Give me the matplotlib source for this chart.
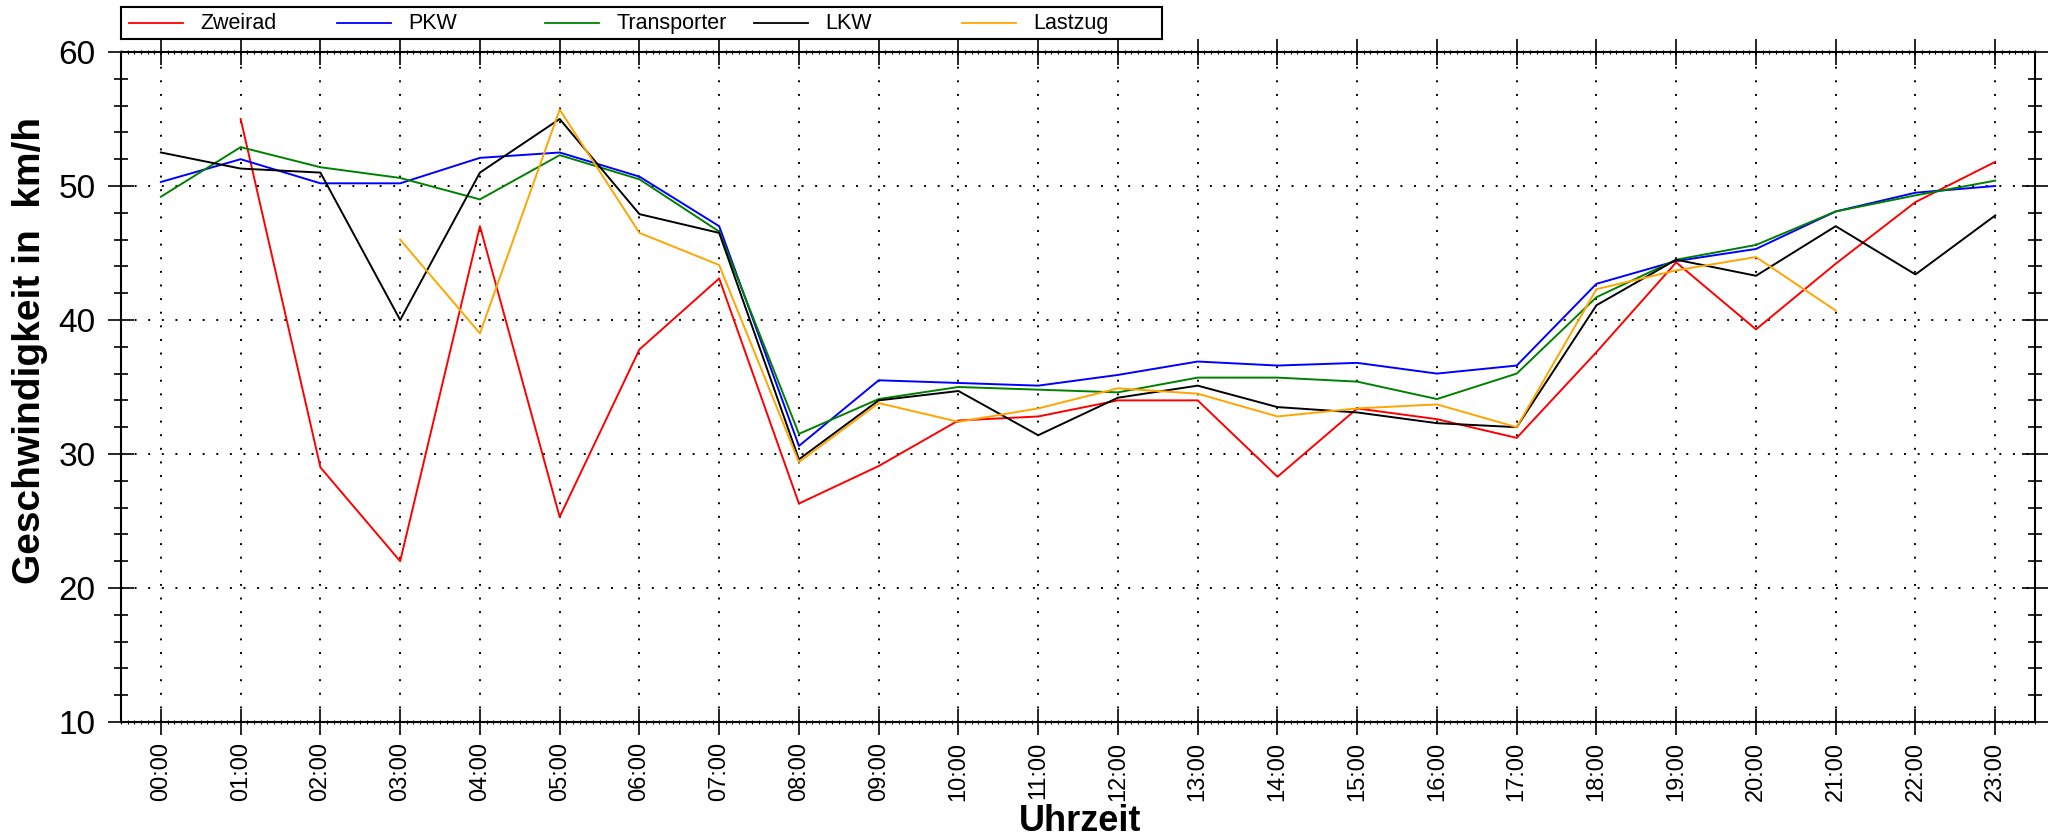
import numpy as np
import matplotlib
matplotlib.use('Agg')
import matplotlib.pyplot as plt
from matplotlib.ticker import MultipleLocator

nan = np.nan

hours = ['%02d:00' % h for h in range(24)]
zweirad = [nan, 55.0, 29.0, 22.0, 47.0, 25.3, 37.8, 43.1, 26.3, 29.1, 32.5, 32.8,
           34.0, 34.0, 28.3, 33.4, 32.6, 31.2, 37.6, 44.3, 39.3, 44.2, 48.8, 51.8]
pkw = [50.3, 52.0, 50.2, 50.2, 52.1, 52.5, 50.7, 47.0, 30.6, 35.5, 35.3, 35.1,
       35.9, 36.9, 36.6, 36.8, 36.0, 36.6, 42.7, 44.4, 45.3, 48.1, 49.5, 50.0]
transporter = [49.2, 52.9, 51.4, 50.6, 49.0, 52.3, 50.5, 46.6, 31.5, 34.1, 35.0, 34.8,
               34.6, 35.7, 35.7, 35.4, 34.1, 36.0, 41.7, 44.5, 45.6, 48.1, 49.3, 50.4]
lkw = [52.5, 51.3, 51.0, 40.0, 51.0, 55.0, 47.9, 46.5, 29.6, 34.0, 34.7, 31.4,
       34.2, 35.1, 33.5, 33.1, 32.3, 32.0, 41.1, 44.5, 43.3, 47.0, 43.4, 47.8]
lastzug = [nan, nan, nan, 46.0, 39.0, 55.7, 46.5, 44.1, 29.4, 33.8, 32.4, 33.4,
           34.9, 34.5, 32.8, 33.4, 33.7, 32.0, 42.3, 43.7, 44.7, 40.7, nan, nan]

names = ['Zweirad', 'PKW', 'Transporter', 'LKW', 'Lastzug']
colors = ['#ff0000', '#0000ff', '#008000', '#000000', '#ffa500']
series = [zweirad, pkw, transporter, lkw, lastzug]

plt.rcParams['font.family'] = ['Liberation Sans', 'DejaVu Sans']

fig = plt.figure(figsize=(20.48, 8.4), dpi=100)
ax = fig.add_axes([0.0591, 0.1405, 0.9346, 0.7976])

x = np.arange(len(hours))
for vals, c in zip(series, colors):
    ax.plot(x, vals, color=c, linewidth=1.4)

ax.set_xlim(-0.5, 23.5)
ax.set_ylim(10, 60)
ax.set_xticks(x)
ax.set_xticklabels(hours, rotation=90, fontsize=17)
ax.xaxis.set_minor_locator(MultipleLocator(1 / 12))
ax.yaxis.set_major_locator(MultipleLocator(10))
ax.yaxis.set_minor_locator(MultipleLocator(2))
ax.tick_params(axis='y', which='major', labelsize=24, pad=9)
ax.tick_params(axis='x', which='major', pad=5)
ax.tick_params(which='both', direction='inout', top=True, right=True)
ax.tick_params(which='major', length=19, width=1.2)
ax.tick_params(axis='y', which='minor', length=10, width=1.2)
ax.tick_params(axis='x', which='minor', length=3, width=0.8)
for s in ax.spines.values():
    s.set_linewidth(1.5)

ax.grid(True, which='major', color='black', linestyle=(0, (1, 6)), linewidth=1.4)

ax.set_ylabel('Geschwindigkeit in  km/h', fontsize=28, fontweight='bold', va='center')
ax.yaxis.set_label_coords(-0.0475, 0.555)
ax.set_xlabel('Uhrzeit', fontsize=26, fontweight='bold', va='center')
ax.xaxis.set_label_coords(0.501, -0.148)

# legend drawn as a row of equal-width entries above the plot
lax = fig.add_axes([0.0591, 0.9536, 0.5083, 0.038])
lax.set_xlim(0, len(names))
lax.set_ylim(0, 1)
lax.set_xticks([])
lax.set_yticks([])
for s in lax.spines.values():
    s.set_linewidth(1.5)
for i, (name, c) in enumerate(zip(names, colors)):
    lax.plot([i + 0.038, i + 0.298], [0.5, 0.5], color=c, linewidth=1.3)
    lax.text(i + 0.38, 0.5, name, fontsize=15.5, va='center', ha='left')

fig.savefig('out.png', dpi=100)
